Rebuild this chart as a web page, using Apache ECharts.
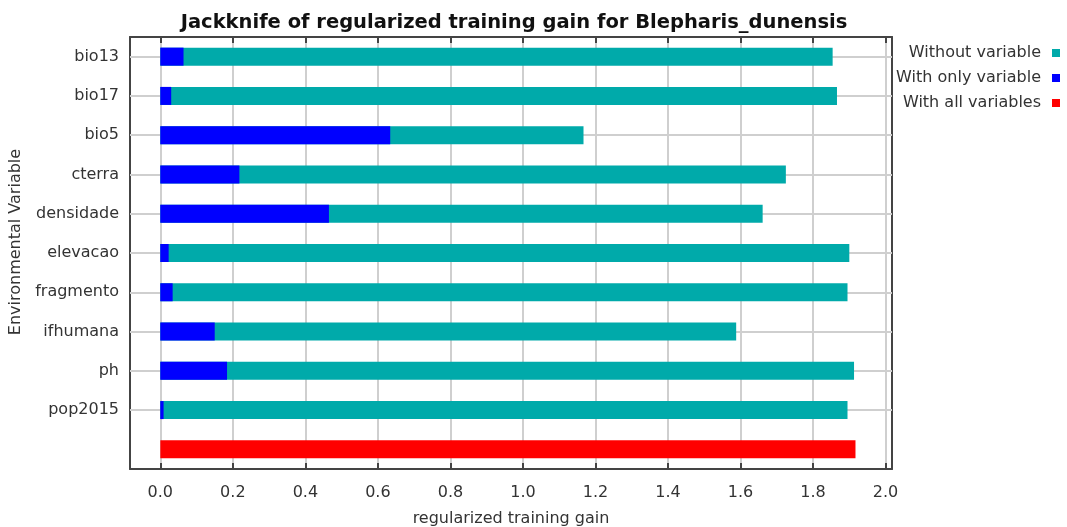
<!DOCTYPE html>
<html>
<head>
<meta charset="utf-8">
<script src="https://cdn.jsdelivr.net/npm/echarts@6/dist/echarts.min.js"></script>
<style>
  html, body { margin: 0; padding: 0; background: #fff; }
  #chart { width: 1067px; height: 527px; }
</style>
</head>
<body>
<div id="chart"></div>
<script>
// values
const variables = ['bio13', 'bio17', 'bio5', 'cterra', 'densidade', 'elevacao', 'fragmento', 'ifhumana', 'ph', 'pop2015'];
const withoutVariable = [1.854, 1.866, 1.167, 1.725, 1.661, 1.900, 1.895, 1.588, 1.913, 1.895];
const withOnlyVariable = [0.064, 0.030, 0.634, 0.218, 0.465, 0.023, 0.034, 0.150, 0.184, 0.009];
const withAllVariables = 1.917;
const gainTicks = [0, 0.2, 0.4, 0.6, 0.8, 1.0, 1.2, 1.4, 1.6, 1.8, 2.0];

const font = 'DejaVu Sans';
const frameColor = '#444';
const gridColor = '#cfcfcf';

// last row is the unnamed "all variables" bar
const categories = variables.concat(['']);
const tealData = withoutVariable.concat([null]);
const blueData = withOnlyVariable.concat([null]);
const redData = variables.map(() => null).concat([withAllVariables]);

const xBase = {
  type: 'value',
  min: -0.0836,
  max: 2.0177,
  axisLine: { show: true, onZero: false, lineStyle: { color: frameColor, width: 2 } },
  axisTick: { show: true, inside: true, length: 6, customValues: gainTicks, lineStyle: { color: frameColor, width: 2 } }
};

const yBase = {
  type: 'category',
  data: categories,
  inverse: true,
  axisLine: { show: true, onZero: false, lineStyle: { color: frameColor, width: 2 } },
  axisTick: {
    show: true, inside: true, length: 6, alignWithLabel: true,
    interval: (i) => i < variables.length,
    lineStyle: { color: frameColor, width: 2 }
  },
  splitLine: { show: false }
};

const chart = echarts.init(document.getElementById('chart'));
chart.setOption({
  animation: false,
  backgroundColor: '#fff',
  title: {
    text: 'Jackknife of regularized training gain for Blepharis_dunensis',
    left: 509,
    top: 8,
    textAlign: 'center',
    textStyle: { fontFamily: font, fontWeight: 'bold', fontSize: 19.5, color: '#111' }
  },
  legend: {
    orient: 'vertical',
    right: 2,
    top: 39,
    align: 'right',
    icon: 'rect',
    itemWidth: 8,
    itemHeight: 8,
    itemGap: 7,
    textStyle: { fontFamily: font, fontSize: 16, color: '#333', lineHeight: 18, padding: [0, 6, 0, 0] },
    data: ['Without variable', 'With only variable', 'With all variables']
  },
  grid: { left: 130, right: 175, top: 37, bottom: 58, containLabel: false, outerBoundsMode: 'none' },
  xAxis: [
    Object.assign({}, xBase, {
      position: 'bottom',
      name: 'regularized training gain',
      nameLocation: 'middle',
      nameGap: 42,
      nameTextStyle: { fontFamily: font, fontSize: 16, color: '#333' },
      axisLabel: {
        customValues: gainTicks,
        margin: 16,
        fontFamily: font, fontSize: 16, color: '#333',
        formatter: (v) => v.toFixed(1)
      },
      splitLine: { show: true, lineStyle: { color: gridColor, width: 2 } }
    }),
    Object.assign({}, xBase, {
      position: 'top',
      axisLabel: { show: false },
      splitLine: { show: false }
    })
  ],
  yAxis: [
    Object.assign({}, yBase, {
      position: 'left',
      name: 'Environmental Variable',
      nameLocation: 'middle',
      nameGap: 95,
      nameTextStyle: { fontFamily: font, fontSize: 16, color: '#333', padding: [0, 0, 0, 22] },
      axisLabel: { margin: 11, fontFamily: font, fontSize: 16, color: '#333' }
    }),
    Object.assign({}, yBase, {
      position: 'right',
      axisLabel: { show: false }
    })
  ],
  series: [
    {
      name: 'Without variable',
      type: 'bar',
      data: tealData,
      barWidth: 18,
      barGap: '-100%',
      itemStyle: { color: '#00aaaa' },
      markLine: {
        silent: true,
        z: 1,
        symbol: 'none',
        label: { show: false },
        lineStyle: { color: gridColor, width: 2, type: 'solid' },
        data: variables.map((v) => ({ yAxis: v }))
      }
    },
    {
      name: 'With only variable',
      type: 'bar',
      data: blueData,
      barWidth: 18,
      barGap: '-100%',
      itemStyle: { color: '#0000ff' }
    },
    {
      name: 'With all variables',
      type: 'bar',
      data: redData,
      barWidth: 18,
      barGap: '-100%',
      itemStyle: { color: '#ff0000' }
    }
  ]
});
</script>
</body>
</html>
